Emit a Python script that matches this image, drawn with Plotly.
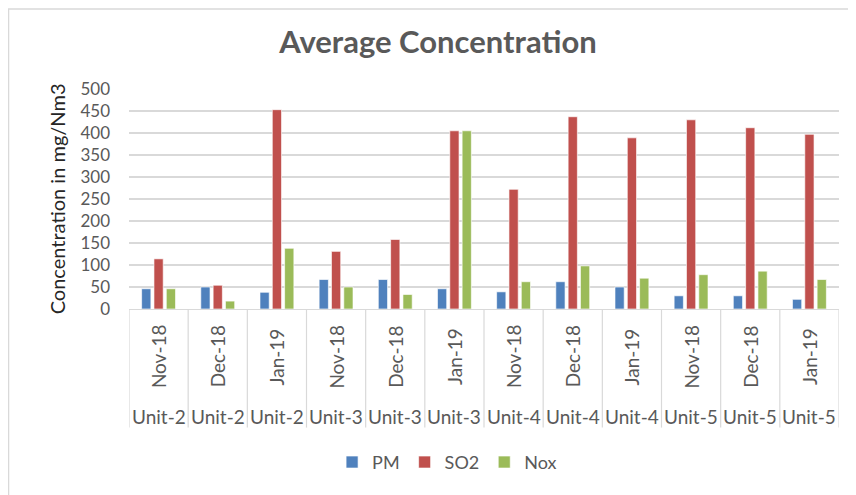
import plotly.graph_objects as go

units = ["Unit-2", "Unit-2", "Unit-2", "Unit-3", "Unit-3", "Unit-3",
         "Unit-4", "Unit-4", "Unit-4", "Unit-5", "Unit-5", "Unit-5"]
months = ["Nov-18", "Dec-18", "Jan-19"] * 4
pm = [46, 50, 38, 67, 67, 46, 39, 62, 50, 30, 30, 22]
so2 = [114, 54, 453, 131, 158, 405, 272, 437, 389, 430, 412, 397]
nox = [46, 18, 138, 50, 33, 405, 62, 98, 70, 78, 86, 67]
y_ticks = [0, 50, 100, 150, 200, 250, 300, 350, 400, 450, 500]

cats = [f"{u} {m}" for u, m in zip(units, months)]
FONT = "Lato, 'Open Sans', sans-serif"
GRAY = "#595959"

fig = go.Figure()
for name, vals, col in [("PM", pm, "#4F81BD"), ("SO2", so2, "#C0504D"), ("Nox", nox, "#9BBB59")]:
    fig.add_trace(go.Bar(x=cats, y=vals, name=name,
                         marker=dict(color=col, line=dict(color="rgba(255,255,255,0.8)", width=0.8))))

annotations = []
for c, m, u in zip(cats, months, units):
    annotations.append(dict(x=c, xref="x", y=-0.216, yref="paper", text=m, textangle=-90,
                            showarrow=False, xanchor="center", yanchor="middle",
                            font=dict(family=FONT, size=19, color=GRAY)))
    annotations.append(dict(x=c, xref="x", y=-0.487, yref="paper", text=u,
                            showarrow=False, xanchor="center", yanchor="middle",
                            font=dict(family=FONT, size=19, color=GRAY)))
annotations.append(dict(x=-0.101, xref="paper", y=0.5, yref="paper", text="Concentration in mg/Nm3",
                        textangle=-90, showarrow=False, xanchor="center", yanchor="middle",
                        font=dict(family=FONT, size=20, color="#262626")))

shapes = []
for k in range(len(cats) + 1):
    shapes.append(dict(type="line", xref="x", yref="paper", x0=k - 0.5, x1=k - 0.5,
                       y0=0, y1=-0.539, line=dict(color="#D9D9D9", width=1.2)))
shapes.append(dict(type="rect", xref="paper", yref="paper", x0=-0.1697, x1=1.05,
                   y0=-0.95, y1=1.364, line=dict(color="#D9D9D9", width=1.5)))

fig.update_layout(
    width=848, height=487,
    margin=dict(l=121, r=17, t=81, b=186),
    paper_bgcolor="white", plot_bgcolor="white",
    barmode="group", bargap=0.375, bargroupgap=0.25,
    title=dict(text="<b>Average Concentration</b>", x=0.507, xanchor="center",
               y=0.930, yanchor="middle", font=dict(family=FONT, size=31, color=GRAY)),
    xaxis=dict(type="category", showticklabels=False, showgrid=False,
               showline=True, linecolor="#D9D9D9", linewidth=1.2, range=[-0.5, 11.5]),
    yaxis=dict(range=[0, 500], tickvals=y_ticks, showgrid=True, gridcolor="#D9D9D9",
               gridwidth=1.5, zeroline=False, ticklabelstandoff=18,
               tickfont=dict(family=FONT, size=17, color=GRAY)),
    legend=dict(orientation="h", x=0.448, xanchor="center", y=-0.697, yanchor="middle",
                font=dict(family=FONT, size=18, color=GRAY), itemwidth=30, traceorder="normal"),
    annotations=annotations, shapes=shapes,
)

fig.write_html("out.html")
